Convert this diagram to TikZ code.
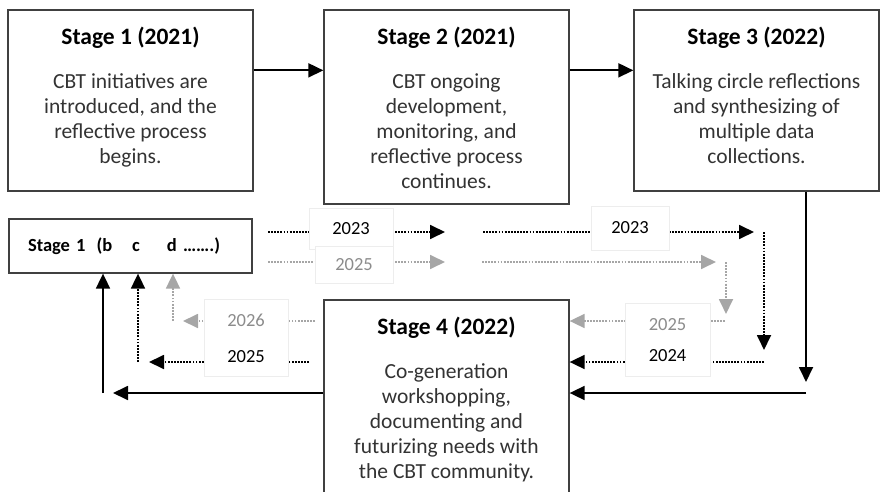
\documentclass[tikz,border=0pt]{standalone}
\usepackage{fontspec}
\setmainfont{Carlito}
\usepackage{tikz}
\usetikzlibrary{arrows.meta, positioning, calc}
\colorlet{boxline}{black!75}
\colorlet{futgray}{black!35}
\colorlet{futtext}{black!45}

% stage box contents: height, title, body
\newcommand{\stagetext}[3]{\parbox[c][#1][t]{229pt}{\centering\fontsize{21.5}{25}\selectfont
  \textcolor{black}{\fontsize{23.5}{25}\selectfont\bfseries #2}\\[19pt]#3}}

\begin{document}
\begin{tikzpicture}[
    x=1pt, y=-1pt,
    stagebox/.style={rectangle, draw=boxline, line width=1.3pt, fill=white, text=black!80, inner xsep=8pt, inner ysep=17pt},
    smallbox/.style={rectangle, draw=boxline, line width=1.3pt, fill=white, inner xsep=19pt, text width=205pt, align=left, minimum height=54pt, font=\fontsize{18.5}{22}\selectfont\bfseries},
    yearbox/.style={rectangle, draw=black!7, line width=0.6pt, fill=white, inner sep=0pt, font=\fontsize{18.5}{22}\selectfont},
    solidarrow/.style={line width=1.8pt, -{Triangle[length=15pt,width=14pt]}},
    pastdot/.style={line width=1.8pt, black, dash pattern=on 1.8pt off 1.3pt},
    futdot/.style={line width=1.8pt, futgray, dash pattern=on 1.8pt off 1.3pt},
    headed/.style={-{Triangle[length=15pt,width=14pt]}}
]
\useasboundingbox (0,0) rectangle (883,492);

% stages
\node[stagebox] (s1) at (130.5,100.5) {\stagetext{147pt}{Stage 1 (2021)}{CBT initiatives are\\introduced, and the\\reflective process\\begins.}};
\node[stagebox] (s2) at (446.5,107) {\stagetext{160pt}{Stage 2 (2021)}{CBT ongoing\\development,\\monitoring, and\\reflective process\\continues.}};
\node[stagebox] (s3) at (756.5,100.5) {\stagetext{147pt}{Stage 3 (2022)}{Talking circle reflections\\and synthesizing of\\multiple data\\collections.}};
\node[stagebox] (s4) at (446.5,400) {\stagetext{166pt}{Stage 4 (2022)}{Co-generation\\workshopping,\\documenting and\\futurizing needs with\\the CBT community.}};
\node[smallbox] (sb) at (130.5,246) {Stage 1\hspace{11pt}(b\hspace{20pt}c\hspace{27pt}d …….)};

% free ends
\coordinate (dn3) at (806,382);
\coordinate (rt4) at (806,393);
\coordinate (lt4) at (113,393);
\coordinate (up1) at (103,393);
\coordinate (a0) at (268,232);
\coordinate (a1) at (445,232);
\coordinate (a2) at (483,232);
\coordinate (a3) at (754,232);
\coordinate (a4) at (764,232);
\coordinate (a5) at (764,350);
\coordinate (d0) at (764,362);
\coordinate (f0) at (309,362);
\coordinate (f1) at (149,362);
\coordinate (f2) at (138,362);
\coordinate (b0) at (268,262);
\coordinate (b1) at (445,262);
\coordinate (b2) at (482,262);
\coordinate (b3) at (716,262);
\coordinate (b4) at (726,262);
\coordinate (b5) at (726,314);
\coordinate (c0) at (725,321);
\coordinate (e0) at (315,321);
\coordinate (e1) at (183,321);
\coordinate (e2) at (173,321);

% main cycle
\draw[solidarrow] ([yshift=-61pt]s1.north east) -- ([yshift=-61pt]s2.north west);
\draw[solidarrow] ([yshift=-61pt]s2.north east) -- ([yshift=-61pt]s3.north west);
\draw[solidarrow] (dn3 |- s3.south) -- (dn3);
\draw[solidarrow] (rt4) -- (rt4 -| s4.east);
\draw[solidarrow] (lt4 -| s4.west) -- (lt4);
\draw[solidarrow] (up1) -- (up1 |- sb.south);

% next cycles
\draw[pastdot, headed] (a0) -- (a1);
\draw[pastdot, headed] (a2) -- (a3);
\draw[pastdot, headed] (a4) -- (a5);
\draw[pastdot, headed] (d0) -- (d0 -| s4.east);
\draw[pastdot, headed] (f0) -- (f1);
\draw[pastdot, headed] (f2) -- (f2 |- sb.south);

\draw[futdot, headed] (b0) -- (b1);
\draw[futdot, headed] (b2) -- (b3);
\draw[futdot, headed] (b4) -- (b5);
\draw[futdot, headed] (c0) -- (c0 -| s4.east);
\draw[futdot, headed] (e0) -- (e1);
\draw[futdot, headed] (e2) -- (e2 |- sb.south);

% years
\node[yearbox, minimum width=84pt, minimum height=41pt] (y23a) at (351,228.5) {2023};
\node[yearbox, text=futtext, minimum width=78pt, minimum height=37pt] (y25a) at (354,265) {2025};
\node[yearbox, minimum width=78pt, minimum height=44pt] (y23b) at (630,228) {2023};
\node[yearbox, minimum width=85pt, minimum height=73pt, align=center, font=\fontsize{18.5}{31}\selectfont] (y45) at (667.5,340) {\textcolor{futtext}{2025}\\2024};
\node[yearbox, minimum width=84pt, minimum height=77pt, align=center, font=\fontsize{18.5}{36}\selectfont] (y65) at (246,338) {\textcolor{futtext}{2026}\\2025};
\end{tikzpicture}
\end{document}
